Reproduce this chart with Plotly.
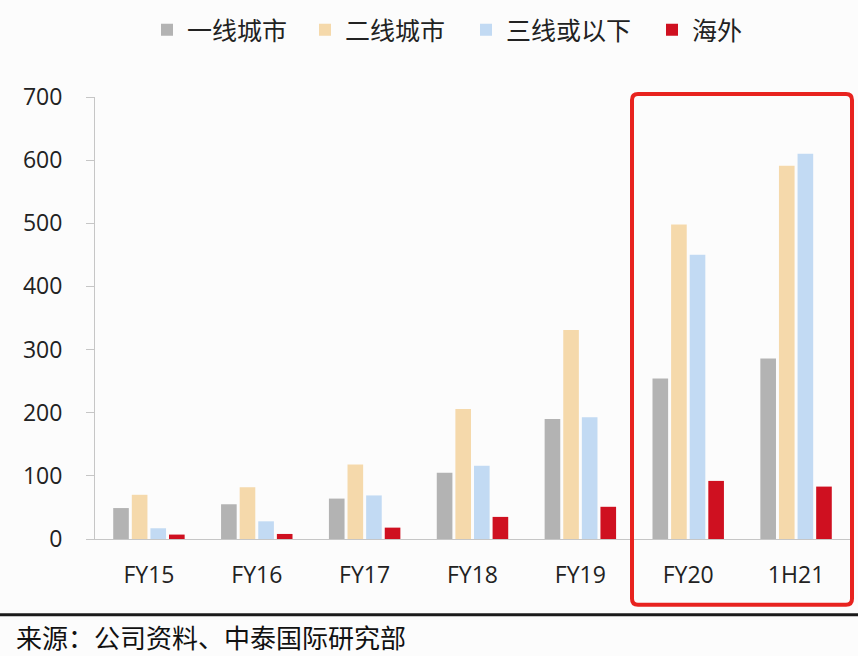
import plotly.graph_objects as go

# Categories and series values
periods = ["FY15", "FY16", "FY17", "FY18", "FY19", "FY20", "1H21"]
tier1 = [49, 55, 64, 105, 190, 254, 286]
tier2 = [70, 82, 118, 206, 331, 498, 591]
tier3_below = [17, 28, 69, 116, 193, 450, 610]
overseas = [7, 8, 18, 35, 51, 92, 83]

series_names = ["一线城市", "二线城市", "三线或以下", "海外"]
series_values = [tier1, tier2, tier3_below, overseas]
series_colors = ["#b3b3b3", "#f5d9ab", "#c2daf3", "#cf1020"]

y_ticks = [0, 100, 200, 300, 400, 500, 600, 700]
source_note = "来源：公司资料、中泰国际研究部"

FONT = "Open Sans, Noto Sans CJK SC, sans-serif"
CJK = "Noto Sans CJK SC, sans-serif"

W, H = 858, 656
ml, mr, mt, mb = 95, 8, 96, 117
pw, ph = W - ml - mr, H - mt - mb


def px_x(v):
    return (v - ml) / pw


def px_y(v):
    return (H - mb - v) / ph


# one legend box per series so each entry sits at its own spot in the header row
legend_ids = ["legend", "legend2", "legend3", "legend4"]
legend_left_px = [147, 305, 466, 652]

fig = go.Figure()
for name, vals, col, lid in zip(series_names, series_values, series_colors, legend_ids):
    fig.add_trace(go.Bar(x=periods, y=vals, name=name, marker_color=col,
                         marker_line_width=0, legend=lid))

# Highlight frame around the latest two periods (rounded corners)
x0, x1 = px_x(632), px_x(852)
y0, y1 = px_y(605), px_y(93)
rx, ry = 6 / pw, 6 / ph
path = (f"M{x0+rx},{y0} L{x1-rx},{y0} Q{x1},{y0} {x1},{y0+ry} "
        f"L{x1},{y1-ry} Q{x1},{y1} {x1-rx},{y1} "
        f"L{x0+rx},{y1} Q{x0},{y1} {x0},{y1-ry} "
        f"L{x0},{y0+ry} Q{x0},{y0} {x0+rx},{y0} Z")
fig.add_shape(type="path", path=path, xref="paper", yref="paper",
              line=dict(color="#e8231f", width=4), fillcolor="rgba(0,0,0,0)")

# Separator line above the source note
fig.add_shape(type="line", xref="paper", yref="paper",
              x0=px_x(0), x1=px_x(W), y0=px_y(615), y1=px_y(615),
              line=dict(color="#1a1a1a", width=3))

fig.add_annotation(text=source_note, xref="paper", yref="paper",
                   x=px_x(14), y=px_y(637), xanchor="left", yanchor="middle",
                   showarrow=False, font=dict(family=CJK, size=26, color="#111111"))

legend_common = dict(orientation="h", yanchor="middle", bgcolor="rgba(0,0,0,0)",
                     font=dict(family=CJK, size=25, color="#222222"))
legend_layout = {lid: dict(x=px_x(lx), y=px_y(30), xanchor="left", **legend_common)
                 for lid, lx in zip(legend_ids, legend_left_px)}

fig.update_layout(
    width=W, height=H,
    margin=dict(l=ml, r=mr, t=mt, b=mb, pad=0),
    paper_bgcolor="#fcfcfc", plot_bgcolor="#fcfcfc",
    barmode="group", bargap=0.31, bargroupgap=0.16,
    font=dict(family=FONT, size=23, color="#222222"),
    showlegend=True,
    xaxis=dict(showline=True, linecolor="#c6c6c6", linewidth=1, ticks="",
               showgrid=False, ticklabelstandoff=15,
               tickfont=dict(family=FONT, size=23, color="#222222")),
    yaxis=dict(range=[0, 700], tickvals=y_ticks, showline=True, linecolor="#c6c6c6",
               linewidth=1, ticks="outside", ticklen=8, tickcolor="#c6c6c6",
               showgrid=False, zeroline=False, ticklabelstandoff=19,
               tickfont=dict(family=FONT, size=23, color="#222222")),
    **legend_layout,
)

fig.write_html("out.html")
